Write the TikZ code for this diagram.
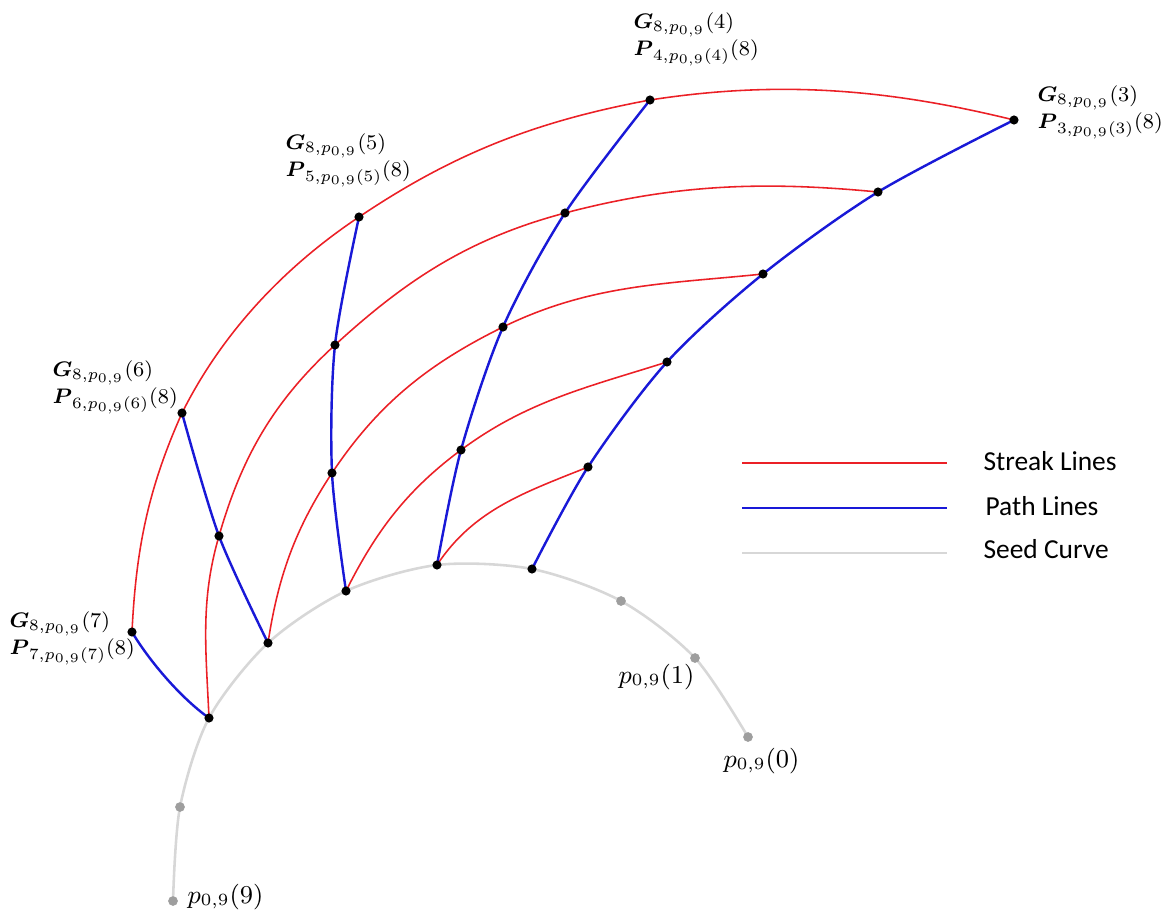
\documentclass[tikz,border=0pt]{standalone}
\usepackage{amsmath}
\usepackage{fontspec}
\newfontfamily\legendfont{Carlito}
\definecolor{streakred}{RGB}{235,32,38}
\definecolor{pathblue}{RGB}{25,25,215}
\definecolor{seedgray}{RGB}{215,215,215}
\definecolor{dotgray}{RGB}{158,158,158}

\begin{document}
\begin{tikzpicture}[x=0.35pt,y=-0.35pt,
    streak/.style={streakred,line width=0.55pt},
    pathline/.style={pathblue,line width=0.85pt},
    seed/.style={seedgray,line width=0.9pt},
    lab/.style={anchor=west,align=left,inner sep=0pt,scale=0.92,transform shape,
      font=\fontsize{8}{10.4}\selectfont},
    plab/.style={anchor=base west,inner sep=0pt,font=\fontsize{9}{11}\selectfont},
    key/.style={anchor=base west,inner sep=0pt,font=\legendfont\fontsize{9.6}{11}\selectfont}]
  \useasboundingbox (0,0) rectangle (1170,922);

  \foreach \n/\x/\y in {s0/748/737,s1/695/658,s2/621/601,s3/532/569,s4/437/565,
      s5/346/591,s6/268/643,s7/209/718,s8/180/807,s9/173/901,
      g31/588/467,g32/667/362,g33/763/274,g34/878/192,g35/1014/120,
      g41/461/450,g42/503/327,g43/565/213,g44/650/100,
      g51/332/473,g52/335/345,g53/359/217,
      g61/219/536,g62/182/413,g71/132/632}
    \coordinate (\n) at (\x,\y);

  \draw[seed] plot[smooth] coordinates {(s9) (s8) (s7) (s6) (s5) (s4) (s3) (s2) (s1) (s0)};

  \draw[streak] (s4) .. controls +(37,-56) and +(-62,25) .. (g31);
  \draw[streak] (s5) .. controls +(30,-60) and +(-54,40) .. (g41)
                     .. controls +(66,-49) and +(-79,25) .. (g32);
  \draw[streak] (s6) .. controls +(10,-66) and +(-37,56) .. (g51)
                     .. controls +(46,-69) and +(-75,37) .. (g42)
                     .. controls +(88,-43) and +(-97,10) .. (g33);
  \draw[streak] (s7) .. controls +(-3,-68) and +(-19,65) .. (g61)
                     .. controls +(23,-80) and +(-61,56) .. (g52)
                     .. controls +(73,-67) and +(-94,25) .. (g43)
                     .. controls +(110,-29) and +(-114,-11) .. (g34);
  \draw[streak] (g71) .. controls +(4,-83) and +(-34,76) .. (g62)
                      .. controls +(40,-80) and +(-75,50) .. (g53)
                      .. controls +(95,-64) and +(-113,21) .. (g44)
                      .. controls +(129,-20) and +(-126,-31) .. (g35);

  \draw[pathline] plot[smooth] coordinates {(s3) (g31) (g32) (g33) (g34) (g35)};
  \draw[pathline] plot[smooth] coordinates {(s4) (g41) (g42) (g43) (g44)};
  \draw[pathline] plot[smooth] coordinates {(s5) (g51) (g52) (g53)};
  \draw[pathline] plot[smooth] coordinates {(s6) (g61) (g62)};
  \draw[pathline] (s7) .. controls +(-28,-20) and +(18,30) .. (g71);

  \foreach \n in {s0,s1,s2,s8,s9}
    \fill[dotgray] (\n) circle[radius=1.7pt];
  \foreach \n in {s3,s4,s5,s6,s7,g31,g32,g33,g34,g35,g41,g42,g43,g44,g51,g52,g53,g61,g62,g71}
    \fill (\n) circle[radius=1.6pt];

  \node[lab] (l3) at (1037,112) {$\boldsymbol{G}_{8,p_{0,9}}(3)$\\$\boldsymbol{P}_{3,p_{0,9}(3)}(8)$};
  \node[lab] (l4) at (633,39) {$\boldsymbol{G}_{8,p_{0,9}}(4)$\\$\boldsymbol{P}_{4,p_{0,9}(4)}(8)$};
  \node[lab] (l5) at (285,160) {$\boldsymbol{G}_{8,p_{0,9}}(5)$\\$\boldsymbol{P}_{5,p_{0,9}(5)}(8)$};
  \node[lab] (l6) at (52,387) {$\boldsymbol{G}_{8,p_{0,9}}(6)$\\$\boldsymbol{P}_{6,p_{0,9}(6)}(8)$};
  \node[lab] (l7) at (9,638) {$\boldsymbol{G}_{8,p_{0,9}}(7)$\\$\boldsymbol{P}_{7,p_{0,9}(7)}(8)$};

  \node[plab] (p1) at (618,683) {$p_{0,9}(1)$};
  \node[plab] (p0) at (723,767) {$p_{0,9}(0)$};
  \node[plab] (p9) at (187,903) {$p_{0,9}(9)$};

  \draw[streakred,line width=0.6pt] (742,463) -- (947,463);
  \draw[pathblue,line width=0.6pt] (742,508) -- (947,508);
  \draw[seedgray,line width=0.6pt] (742,553) -- (947,553);
  \node[key] (ks) at (983,470) {Streak Lines};
  \node[key] (kp) at (985,515) {Path Lines};
  \node[key] (kc) at (983,558) {Seed Curve};
\end{tikzpicture}
\end{document}
